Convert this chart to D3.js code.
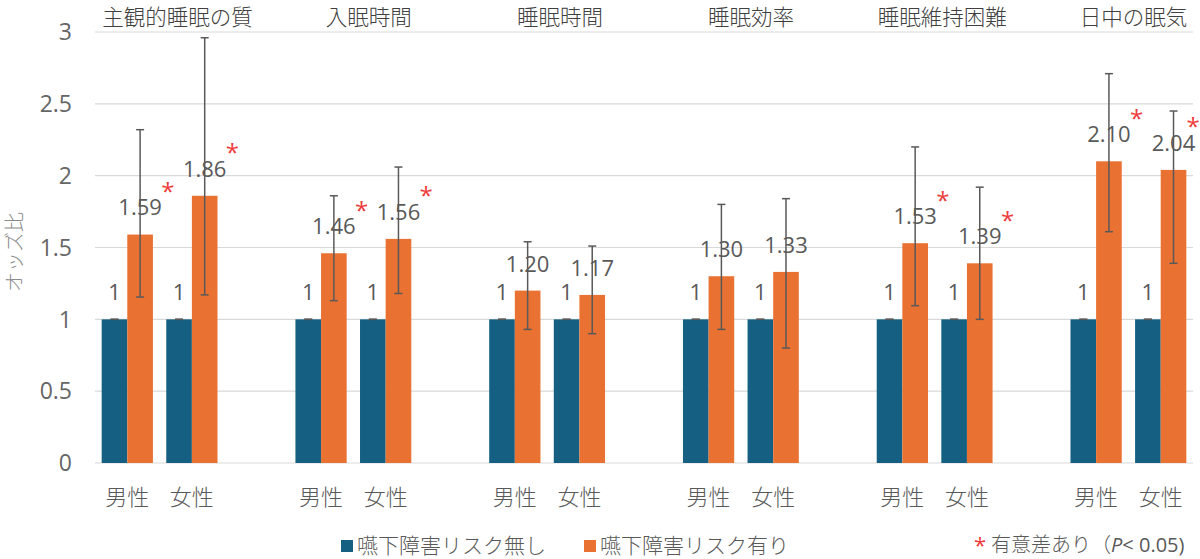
<!DOCTYPE html>
<html><head><meta charset="utf-8">
<script src="https://cdn.jsdelivr.net/npm/d3@7"></script>
<style>
html,body{margin:0;padding:0;background:#fff;}
svg{display:block;}
text{font-family:"Open Sans","Noto Sans CJK JP",sans-serif;}
.jp{font-family:"Noto Sans CJK JP",sans-serif;font-weight:300;}
</style></head>
<body>
<script>
// ---- data ----
const groups = ["主観的睡眠の質","入眠時間","睡眠時間","睡眠効率","睡眠維持困難","日中の眠気"];
const sexes = ["男性","女性"];
const seriesNames = ["嚥下障害リスク無し","嚥下障害リスク有り"];
// odds ratios with risk (male, female per group)
const orRisk = [[1.59,1.86],[1.46,1.56],[1.20,1.17],[1.30,1.33],[1.53,1.39],[2.10,2.04]];
const ciLow  = [[1.155,1.17],[1.13,1.18],[0.93,0.90],[0.93,0.80],[1.095,1.00],[1.61,1.39]];
const ciHigh = [[2.32,2.96],[1.86,2.06],[1.54,1.51],[1.80,1.84],[2.20,1.92],[2.71,2.45]];
const orRef = 1;
const significant = [[true,true],[true,true],[false,false],[false,false],[true,true],[true,true]];
const yTicks = [0,0.5,1,1.5,2,2.5,3];
const yTitle = "オッズ比";
const sigNote = "有意差あり（";
const colors = ["#156082","#E97132"];

// ---- layout ----
const W=1200,H=559;
const mLeft=95,mRight=1193,mTop=32,mBottom=463;
const svg=d3.select("body").append("svg").attr("width",W).attr("height",H);

const slots=[];
groups.forEach((g,gi)=>{
  sexes.forEach(s=>slots.push(gi+"|"+s));
  if(gi<groups.length-1) slots.push(gi+"|gap");
});
const x0=d3.scaleBand().domain(slots).range([mLeft,mRight]).padding(0);
const x1=d3.scaleBand().domain([0,1]).range([0,x0.bandwidth()]).paddingInner(0).paddingOuter(0.26);
const y=d3.scaleLinear().domain([0,3]).range([mBottom,mTop]);

// gridlines
svg.append("g").selectAll("line").data(yTicks).join("line")
  .attr("x1",mLeft).attr("x2",mRight)
  .attr("y1",d=>y(d)).attr("y2",d=>y(d))
  .attr("stroke","#d9d9d9").attr("stroke-width",1.2);

// y tick labels
svg.append("g").selectAll("text").data(yTicks).join("text")
  .attr("x",72).attr("y",d=>y(d)).attr("dy","0.36em")
  .attr("text-anchor","end").attr("font-size",23).attr("fill","#666")
  .text(d=>d);

// y title
svg.append("text").attr("class","jp").attr("transform","translate(15,252) rotate(-90)")
  .attr("dy","0.35em")
  .attr("text-anchor","middle").attr("font-size",20).attr("fill","#8c8c8c")
  .text(yTitle);

// build records
const recs=[];
groups.forEach((g,gi)=>sexes.forEach((s,si)=>{
  recs.push({key:gi+"|"+s,series:0,v:orRef,lo:orRef,hi:orRef,sig:false,label:"1"});
  recs.push({key:gi+"|"+s,series:1,v:orRisk[gi][si],lo:ciLow[gi][si],hi:ciHigh[gi][si],sig:significant[gi][si],label:orRisk[gi][si].toFixed(2)});
}));
const cx=d=>x0(d.key)+x1(d.series)+x1.bandwidth()/2;

// bars
svg.append("g").selectAll("rect").data(recs).join("rect")
  .attr("x",d=>x0(d.key)+x1(d.series))
  .attr("width",x1.bandwidth())
  .attr("y",d=>y(d.v)).attr("height",d=>y(0)-y(d.v))
  .attr("fill",d=>colors[d.series]);

// error bars
const eb=svg.append("g").attr("stroke","#595959").attr("stroke-width",1.5);
recs.forEach(d=>{
  const c=cx(d);
  if(d.hi>d.lo) eb.append("line").attr("x1",c).attr("x2",c).attr("y1",y(d.hi)).attr("y2",y(d.lo));
  eb.append("line").attr("x1",c-4).attr("x2",c+4).attr("y1",y(d.hi)).attr("y2",y(d.hi));
  eb.append("line").attr("x1",c-4).attr("x2",c+4).attr("y1",y(d.lo)).attr("y2",y(d.lo));
});

// data labels
const lab=svg.append("g");
recs.forEach(d=>{
  const c=cx(d);
  const t=lab.append("text").attr("x",c).attr("y",y(d.v)-27).attr("dy","0.36em")
    .attr("text-anchor","middle").attr("font-size",22).attr("fill","#595959").text(d.label);
  if(d.sig){
    const w=t.node().getComputedTextLength();
    lab.append("text").attr("x",Math.min(c+w/2+6,W-7)).attr("y",y(d.v)-43).attr("dy","0.35em")
      .attr("text-anchor","middle").attr("font-size",24).attr("fill","#ee3b3b").text("*");
  }
});

// group titles
svg.append("g").selectAll("text").data(groups).join("text").attr("class","jp")
  .attr("x",(d,i)=>Math.min((x0(i+"|男性")+x0(i+"|女性")+x0.bandwidth())/2+18-2.6*i, W-6-d.length*11))
  .attr("y",17).attr("dy","0.36em").attr("text-anchor","middle").attr("font-size",21.5).attr("fill","#404040")
  .text(d=>d);

// x labels
svg.append("g").selectAll("text").data(slots.filter(s=>!s.endsWith("gap"))).join("text").attr("class","jp")
  .attr("x",d=>x0(d)+x0.bandwidth()/2).attr("y",497).attr("dy","0.36em")
  .attr("text-anchor","middle").attr("font-size",22).attr("fill","#595959")
  .text(d=>d.split("|")[1]);

// legend
const lg=svg.append("g");
const legX=[341,584];
seriesNames.forEach((n,i)=>{
  lg.append("rect").attr("x",legX[i]).attr("y",540).attr("width",12).attr("height",12).attr("fill",colors[i]);
  lg.append("text").attr("class","jp").attr("x",legX[i]+16).attr("y",545).attr("dy","0.36em")
    .attr("font-size",21).attr("fill","#595959").text(n);
});
lg.append("text").attr("x",980).attr("y",553).attr("text-anchor","middle")
  .attr("font-size",22).attr("fill","#ee3b3b").text("*");
const nt=lg.append("text").attr("class","jp").attr("x",991).attr("y",545).attr("dy","0.36em")
  .attr("font-size",20).attr("fill","#595959");
nt.append("tspan").text(sigNote);
nt.append("tspan").attr("font-style","italic").attr("font-family","Open Sans").attr("font-weight",400).text("P");
nt.append("tspan").attr("font-family","Open Sans").attr("font-weight",400).text("< 0.05)");
</script>
</body></html>
